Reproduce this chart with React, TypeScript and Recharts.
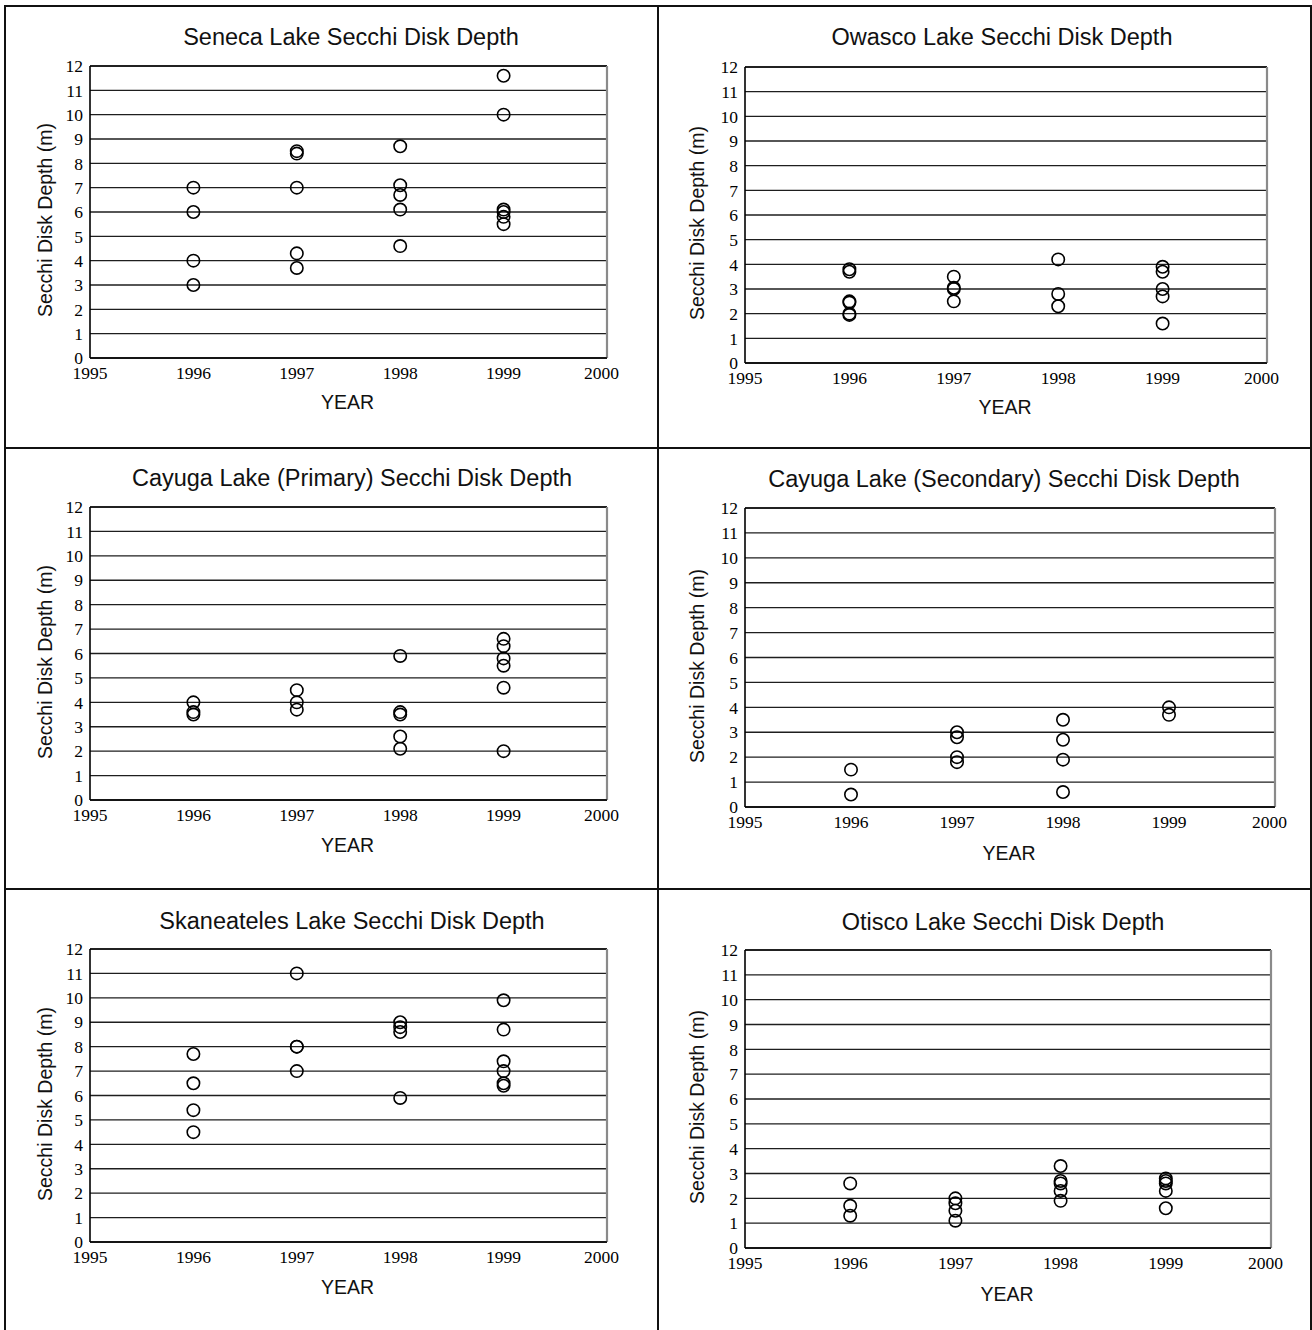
import React from 'react';
import { ScatterChart, Scatter, XAxis, YAxis, CartesianGrid, ReferenceLine } from 'recharts';

// sampling years and axis ticks
const years = [1996, 1997, 1998, 1999];
const yearTicks = [1995, 1996, 1997, 1998, 1999, 2000];
const depthTicks = [0, 1, 2, 3, 4, 5, 6, 7, 8, 9, 10, 11, 12];

// Secchi depths (m), one inner list per year in `years`
const seneca = [
  [7, 6, 4, 3],
  [8.5, 8.4, 7, 4.3, 3.7],
  [8.7, 7.1, 6.7, 6.1, 4.6],
  [11.6, 10, 6.1, 6.0, 5.8, 5.5],
];
const owasco = [
  [3.8, 3.7, 2.5, 2.45, 2.0, 1.95],
  [3.5, 3.05, 3.0, 2.5],
  [4.2, 2.8, 2.3],
  [3.9, 3.7, 3.0, 2.7, 1.6],
];
const cayugaPrimary = [
  [4.0, 3.6, 3.5],
  [4.5, 4.0, 3.7],
  [5.9, 3.6, 3.5, 2.6, 2.1],
  [6.6, 6.3, 5.8, 5.5, 4.6, 2.0],
];
const cayugaSecondary = [
  [1.5, 0.5],
  [3.0, 2.8, 2.0, 1.8],
  [3.5, 2.7, 1.9, 0.6],
  [4.0, 3.7],
];
const skaneateles = [
  [7.7, 6.5, 5.4, 4.5],
  [11.0, 8.0, 8.0, 7.0],
  [9.0, 8.8, 8.6, 5.9],
  [9.9, 8.7, 7.4, 7.0, 6.5, 6.4],
];
const otisco = [
  [2.6, 1.7, 1.3],
  [2.0, 1.8, 1.5, 1.1],
  [3.3, 2.7, 2.6, 2.3, 1.9],
  [2.8, 2.7, 2.6, 2.3, 1.6],
];

const titles = [
  'Seneca Lake Secchi Disk Depth',
  'Owasco Lake Secchi Disk Depth',
  'Cayuga Lake (Primary) Secchi Disk Depth',
  'Cayuga Lake (Secondary) Secchi Disk Depth',
  'Skaneateles Lake Secchi Disk Depth',
  'Otisco Lake Secchi Disk Depth',
];
const lakes = [seneca, owasco, cayugaPrimary, cayugaSecondary, skaneateles, otisco];

// page layout: plot rectangle, title centre, label positions
const layout = [
  { l: 90, t: 66, r: 607, b: 358, titleX: 351, titleY: 37, yearY: 402, yLabX: 45 },
  { l: 745, t: 67, r: 1267, b: 363, titleX: 1002, titleY: 37, yearY: 407, yLabX: 697 },
  { l: 90, t: 507, r: 607, b: 800, titleX: 352, titleY: 478, yearY: 845, yLabX: 45 },
  { l: 745, t: 508, r: 1275, b: 807, titleX: 1004, titleY: 479, yearY: 853, yLabX: 697 },
  { l: 90, t: 949, r: 607, b: 1242, titleX: 352, titleY: 921, yearY: 1287, yLabX: 45 },
  { l: 745, t: 950, r: 1271, b: 1248, titleX: 1003, titleY: 922, yearY: 1294, yLabX: 697 },
];

const sans = '"Liberation Sans", Arial, sans-serif';
const serif = '"Liberation Serif", "Times New Roman", serif';
const Y_W = 40;
const PAD = 12;
const X_H = 34;

const toPoints = (lake: number[][]) =>
  lake.flatMap((vals, i) => vals.map((depth) => ({ year: years[i], depth })));

const OpenCircle = (props: any) => (
  <circle cx={props.cx} cy={props.cy} r={6.2} fill="none" stroke="#000" strokeWidth={1.6} />
);

const Panel = ({ idx }: { idx: number }) => {
  const p = layout[idx];
  const w = p.r - p.l + Y_W + PAD;
  const h = p.b - p.t + PAD + X_H;
  const tick = { fontFamily: serif, fontSize: 17.5, fill: '#000' };
  return (
    <>
      <div
        style={{
          position: 'absolute', left: p.titleX - 320, top: p.titleY - 14, width: 640,
          textAlign: 'center', fontFamily: sans, fontSize: 23.5, lineHeight: '28px', color: '#111',
        }}
      >
        {titles[idx]}
      </div>
      <div
        style={{
          position: 'absolute', left: (p.l + p.r) / 2 - 101, top: p.yearY - 12, width: 200,
          textAlign: 'center', fontFamily: sans, fontSize: 19.5, lineHeight: '24px', color: '#111',
        }}
      >
        YEAR
      </div>
      <div
        style={{
          position: 'absolute', left: p.yLabX - 150, top: (p.t + p.b) / 2 + 8 - 12, width: 300,
          textAlign: 'center', fontFamily: sans, fontSize: 19.5, lineHeight: '24px', color: '#111',
          transform: 'rotate(-90deg)',
        }}
      >
        Secchi Disk Depth (m)
      </div>
      <div style={{ position: 'absolute', left: p.l - Y_W, top: p.t - PAD }}>
        <ScatterChart width={w} height={h} margin={{ top: PAD, right: PAD, left: 0, bottom: 0 }}>
          <CartesianGrid vertical={false} stroke="#1e1e1e" strokeWidth={1.3} />
          <XAxis
            type="number" dataKey="year" domain={[1995, 2000]} ticks={yearTicks}
            tick={tick} tickLine={false} tickSize={0} tickMargin={9} height={X_H}
            axisLine={{ stroke: '#000', strokeWidth: 1.6 }} allowDecimals={false}
          />
          <YAxis
            type="number" dataKey="depth" domain={[0, 12]} ticks={depthTicks}
            tick={tick} tickLine={false} tickSize={0} tickMargin={7} width={Y_W}
            axisLine={{ stroke: '#000', strokeWidth: 1.6 }} interval={0}
          />
          <ReferenceLine y={12} stroke="#111" strokeWidth={1.4} />
          <ReferenceLine x={2000} stroke="#8a8a8a" strokeWidth={2.2} />
          <Scatter data={toPoints(lakes[idx])} shape={OpenCircle} isAnimationActive={false} />
        </ScatterChart>
      </div>
    </>
  );
};

const line = (left: number, top: number, width: number, height: number) => (
  <div style={{ position: 'absolute', left, top, width, height, background: '#111' }} />
);

export default function App() {
  return (
    <div style={{ position: 'absolute', left: 0, top: 0, width: 1312, height: 1330, background: '#fff', overflow: 'hidden' }}>
      {line(4, 5, 1308, 2)}
      {line(4, 5, 2, 1325)}
      {line(1310, 5, 2, 1325)}
      {line(657, 5, 2, 1325)}
      {line(4, 447, 1308, 2)}
      {line(4, 888, 1308, 2)}
      {[0, 1, 2, 3, 4, 5].map((i) => (
        <Panel key={i} idx={i} />
      ))}
    </div>
  );
}
